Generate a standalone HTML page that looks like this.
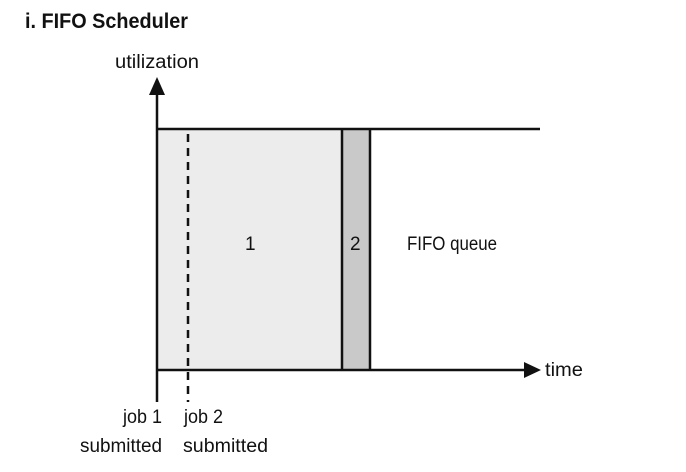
<!DOCTYPE html>
<html><head><style>
html,body{margin:0;padding:0;background:#fff;}
svg{display:block;}
text{font-family:"Liberation Sans",sans-serif;fill:#111;}
</style></head><body>
<svg width="686" height="472" viewBox="0 0 686 472">
<rect x="157" y="129" width="185" height="241" fill="#ececec"/>
<rect x="342" y="129" width="28" height="241" fill="#c9c9c9"/>
<line x1="157" y1="129" x2="540" y2="129" stroke="#111" stroke-width="2.5"/>
<line x1="157" y1="370" x2="528" y2="370" stroke="#111" stroke-width="2.5"/>
<polygon points="524,362 541,370 524,378" fill="#111"/>
<line x1="157" y1="90" x2="157" y2="402" stroke="#111" stroke-width="2.5"/>
<polygon points="149,95 157,77 165,95" fill="#111"/>
<line x1="342" y1="129" x2="342" y2="370" stroke="#111" stroke-width="2.5"/>
<line x1="370" y1="129" x2="370" y2="370" stroke="#111" stroke-width="2.5"/>
<line x1="188" y1="134" x2="188" y2="402" stroke="#111" stroke-width="2.5" stroke-dasharray="8,6"/>
<text x="25" y="28" font-size="21" font-weight="bold" textLength="163" lengthAdjust="spacingAndGlyphs">i. FIFO Scheduler</text>
<text x="115" y="68" font-size="19" textLength="84" lengthAdjust="spacingAndGlyphs">utilization</text>
<text x="245" y="250" font-size="19">1</text>
<text x="350" y="250" font-size="19">2</text>
<text x="407" y="250" font-size="19" textLength="90" lengthAdjust="spacingAndGlyphs">FIFO queue</text>
<text x="545" y="376" font-size="19" textLength="38" lengthAdjust="spacingAndGlyphs">time</text>
<text x="123" y="423" font-size="19" textLength="39" lengthAdjust="spacingAndGlyphs">job 1</text>
<text x="80" y="452" font-size="19" textLength="82" lengthAdjust="spacingAndGlyphs">submitted</text>
<text x="184" y="423" font-size="19" textLength="39" lengthAdjust="spacingAndGlyphs">job 2</text>
<text x="183" y="452" font-size="19" textLength="85" lengthAdjust="spacingAndGlyphs">submitted</text>
</svg>
</body></html>
